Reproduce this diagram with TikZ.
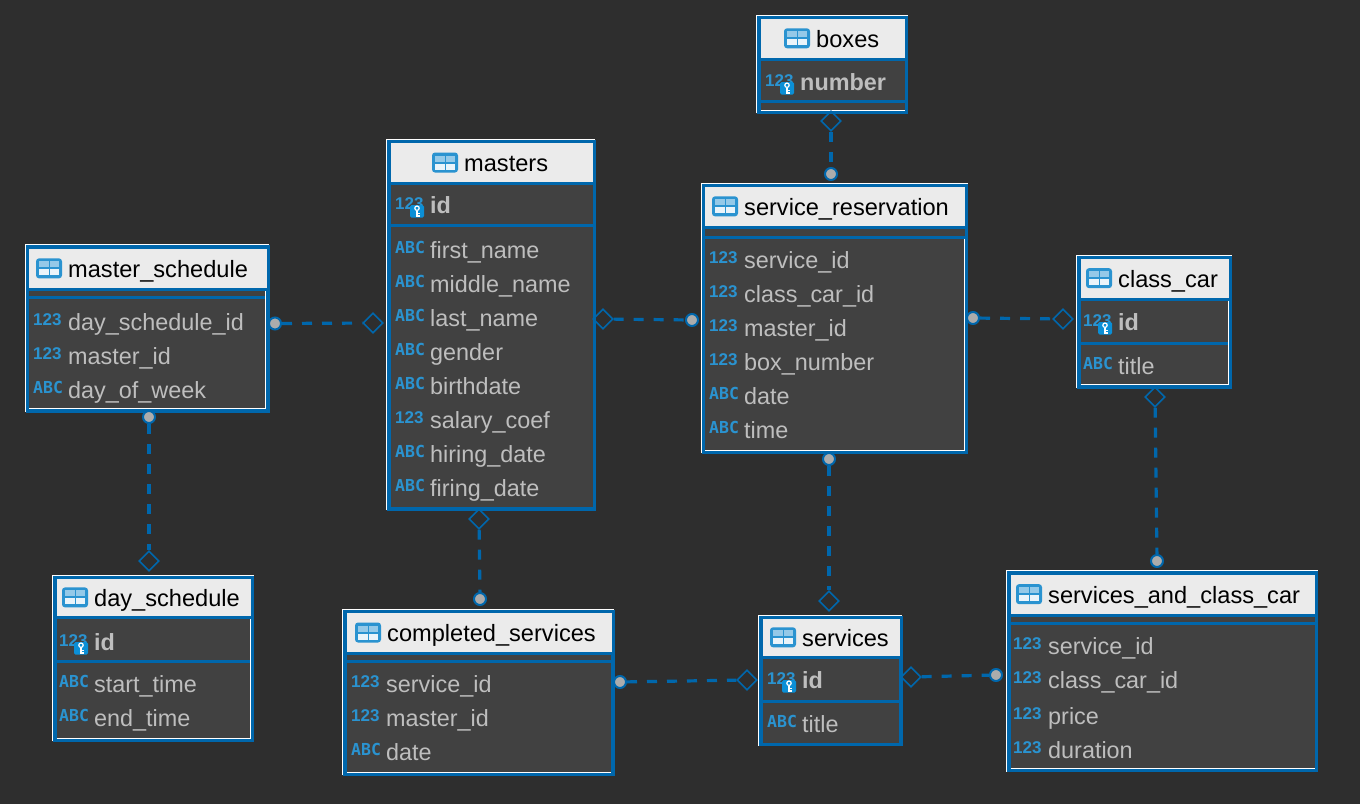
\documentclass[tikz,border=0pt]{standalone}
\usepackage{fontspec}
\setmainfont{Liberation Sans}
\newfontfamily\tagmono{DejaVu Sans Mono}
\usetikzlibrary{shapes.geometric}
\definecolor{bggray}{HTML}{2E2E2E}
\definecolor{bodygray}{HTML}{414141}
\definecolor{headgray}{HTML}{EBEBEB}
\definecolor{textgray}{HTML}{BEBEBE}
\definecolor{erblue}{HTML}{0067AC}
\definecolor{iconblue}{HTML}{2A93D0}
\definecolor{keyblue}{HTML}{0B8FD6}
\tikzset{
  tablebody/.style={draw=erblue, line width=3.2pt, fill=bodygray, anchor=north west, inner sep=0pt, outer sep=0pt},
  tabletitle/.style={anchor=base west, inner sep=0pt, text=black, font=\fontsize{23.6}{24}\selectfont},
  fieldname/.style={anchor=base west, inner sep=0pt, text=textgray, font=\fontsize{23.4}{24}\selectfont},
  keyname/.style={fieldname, font=\fontsize{23.4}{24}\selectfont\bfseries},
  typetag/.style={anchor=base west, inner sep=0pt, text=iconblue},
  rim/.style={white, line width=1pt},
  rule/.style={erblue, line width=3pt},
  link/.style={draw=erblue, line width=3.2pt, dash pattern=on 10pt off 10pt},
  onedot/.style={circle, draw=erblue, line width=2pt, fill=gray!65!white, minimum size=12pt, inner sep=0pt},
  manydia/.style={diamond, draw=erblue, line width=1.6pt, minimum size=20pt, inner sep=0pt, aspect=1}
}
% #1 id, #2-#5 box, #6 header bottom, #7 second rule, #8 icon x, #9 title
\newcommand\ertable[9]{
  \draw[rim] (#2-2.1, #5+1) -- (#2-2.1, #3-2.1) -- (#4+1, #3-2.1);
  \node[tablebody, minimum width={(#4-#2)*1pt}, minimum height={(#5-#3)*1pt}] (#1) at (#2, #3) {};
  \fill[headgray] (#2+1.5, #3+1.5) rectangle (#4-1.5, #6);
  \draw[rule] (#2, #6) -- (#4, #6);
  \draw[rule] (#2, #7) -- (#4, #7);
  \fill[iconblue, rounded corners=3pt] (#8, {(#3+#6)/2-10}) rectangle (#8+26, {(#3+#6)/2+10});
  \fill[white!50!iconblue] (#8+3, {(#3+#6)/2-7}) rectangle (#8+12.5, {(#3+#6)/2-1});
  \fill[white!50!iconblue] (#8+13.5, {(#3+#6)/2-7}) rectangle (#8+23, {(#3+#6)/2-1});
  \fill[white!90!iconblue] (#8+3, {(#3+#6)/2+1}) rectangle (#8+12.5, {(#3+#6)/2+7});
  \fill[white!90!iconblue] (#8+13.5, {(#3+#6)/2+1}) rectangle (#8+23, {(#3+#6)/2+7});
  \node[tabletitle] (#1-title) at (#8+32, {(#3+#6)/2+9}) {#9};
}
% white hairlines inside some tables
\newcommand\bottomrim[3]{\draw[rim] (#1+1.6, #2-2.1) -- (#3-1.6, #2-2.1);}
\newcommand\siderim[3]{\draw[rim] (#1-2.1, #2+1.5) -- (#1-2.1, #3-1.6);}
% #1 id, #2 x of name, #3 y of row, #4 name
\newcommand\numfield[4]{
  \node[typetag, font=\fontsize{17}{17}\selectfont\bfseries] (#1-t#3) at (#2-35, #3+3.5) {123};
  \node[fieldname] (#1-f#3) at (#2, #3+8) {#4};
}
\newcommand\txtfield[4]{
  \node[typetag, font=\tagmono\fontsize{16.5}{17}\selectfont\bfseries] (#1-t#3) at (#2-35, #3+3) {ABC};
  \node[fieldname] (#1-f#3) at (#2, #3+8) {#4};
}
\newcommand\keyfield[4]{
  \node[typetag, font=\fontsize{17}{17}\selectfont\bfseries] (#1-t#3) at (#2-35, #3+4.5) {123};
  \fill[keyblue, rounded corners=1.5pt] (#2-20, #3) rectangle (#2-6, #3+12.5);
  \draw[white, line width=1.2pt] (#2-13, #3+3.2) circle (2.2pt);
  \draw[white, line width=1.3pt] (#2-13, #3+5.5) -- (#2-13, #3+11.5) (#2-13, #3+8.5) -- (#2-10.5, #3+8.5) (#2-13, #3+11) -- (#2-10.5, #3+11);
  \node[keyname] (#1-f#3) at (#2, #3+8) {#4};
}
\begin{document}
\begin{tikzpicture}[x=1pt, y=-1pt]
  \useasboundingbox[fill=bggray] (0, 0) rectangle (1360, 804);

  % masters
  \ertable{masters}{389}{141.7}{594.3}{509}{183.3}{225.7}{432}{masters}
  \keyfield{masters}{430}{205}{id}
  \txtfield{masters}{430}{250}{first\_name}
  \txtfield{masters}{430}{284}{middle\_name}
  \txtfield{masters}{430}{318}{last\_name}
  \txtfield{masters}{430}{352}{gender}
  \txtfield{masters}{430}{386}{birthdate}
  \numfield{masters}{430}{420}{salary\_coef}
  \txtfield{masters}{430}{454}{hiring\_date}
  \txtfield{masters}{430}{488}{firing\_date}

  % boxes
  \ertable{boxes}{759}{17.3}{906.7}{112.3}{59.3}{101.3}{784}{boxes}
  \bottomrim{759}{112.3}{906.7}
  \keyfield{boxes}{800}{82}{number}

  % service_reservation
  \ertable{reservation}{703.7}{185.7}{966.7}{452.2}{227}{237}{712}{service\_reservation}
  \bottomrim{703.7}{452.2}{966.7}
  \siderim{966.7}{237}{452.2}
  \numfield{reservation}{744}{260}{service\_id}
  \numfield{reservation}{744}{294}{class\_car\_id}
  \numfield{reservation}{744}{328}{master\_id}
  \numfield{reservation}{744}{362}{box\_number}
  \txtfield{reservation}{744}{396}{date}
  \txtfield{reservation}{744}{430}{time}

  % master_schedule
  \ertable{schedule}{27.5}{247}{268}{411}{289.7}{297.3}{36}{master\_schedule}
  \bottomrim{27.5}{411}{268}
  \siderim{268}{289.7}{411}
  \numfield{schedule}{68}{322}{day\_schedule\_id}
  \numfield{schedule}{68}{356}{master\_id}
  \txtfield{schedule}{68}{390}{day\_of\_week}

  % class_car
  \ertable{classcar}{1079}{257.3}{1230.7}{387}{299}{343.7}{1086}{class\_car}
  \bottomrim{1079}{387}{1230.7}
  \siderim{1230.7}{299}{387}
  \keyfield{classcar}{1118}{322}{id}
  \txtfield{classcar}{1118}{366}{title}

  % day_schedule
  \ertable{dayschedule}{55}{577.5}{252.5}{740.3}{617.3}{661.3}{62}{day\_schedule}
  \bottomrim{55}{740.3}{252.5}
  \siderim{252.5}{617.3}{740.3}
  \keyfield{dayschedule}{94}{642}{id}
  \txtfield{dayschedule}{94}{684}{start\_time}
  \txtfield{dayschedule}{94}{718}{end\_time}

  % completed_services
  \ertable{completed}{345}{611.3}{613}{774.3}{653.7}{661.3}{355}{completed\_services}
  \bottomrim{345}{774.3}{613}
  \numfield{completed}{386}{684}{service\_id}
  \numfield{completed}{386}{718}{master\_id}
  \txtfield{completed}{386}{752}{date}

  % services
  \ertable{services}{761}{617.3}{901}{744.7}{657.3}{701.3}{770}{services}
  \keyfield{services}{802}{680}{id}
  \txtfield{services}{802}{724}{title}

  % services_and_class_car
  \ertable{pricing}{1009}{573}{1316.7}{770.5}{615.3}{623.3}{1016}{services\_and\_class\_car}
  \bottomrim{1009}{770.5}{1316.7}
  \numfield{pricing}{1048}{646}{service\_id}
  \numfield{pricing}{1048}{680}{class\_car\_id}
  \numfield{pricing}{1048}{716}{price}
  \numfield{pricing}{1048}{750}{duration}

  % ends of the links
  \node[onedot] (d1) at (275, 323.5) {};
  \node[manydia] (m1) at (373, 323) {};
  \node[manydia] (m2) at (603, 319) {};
  \node[onedot] (d2) at (692, 320) {};
  \node[onedot] (d3) at (973, 318) {};
  \node[manydia] (m3) at (1063, 319) {};
  \node[manydia] (m4) at (831, 121) {};
  \node[onedot] (d4) at (831, 174) {};
  \node[onedot] (d5) at (829, 459) {};
  \node[manydia] (m5) at (829, 601) {};
  \node[manydia] (m6) at (1155, 397) {};
  \node[onedot] (d6) at (1157, 561) {};
  \node[manydia] (m7) at (479, 519) {};
  \node[onedot] (d7) at (480, 599) {};
  \node[onedot] (d8) at (149, 417) {};
  \node[manydia] (m8) at (149, 561) {};
  \node[onedot] (d9) at (620, 682) {};
  \node[manydia] (m9) at (747, 680) {};
  \node[manydia] (m10) at (911, 677) {};
  \node[onedot] (d10) at (996, 675) {};

  \draw[link] (d1) -- (m1);
  \draw[link] (m2) -- (d2);
  \draw[link] (d3) -- (m3);
  \draw[link] (m4) -- (d4);
  \draw[link] (d5) -- (m5);
  \draw[link] (m6) -- (d6);
  \draw[link] (m7) -- (d7);
  \draw[link] (d8) -- (m8);
  \draw[link] (d9) -- (m9);
  \draw[link] (m10) -- (d10);
\end{tikzpicture}
\end{document}
